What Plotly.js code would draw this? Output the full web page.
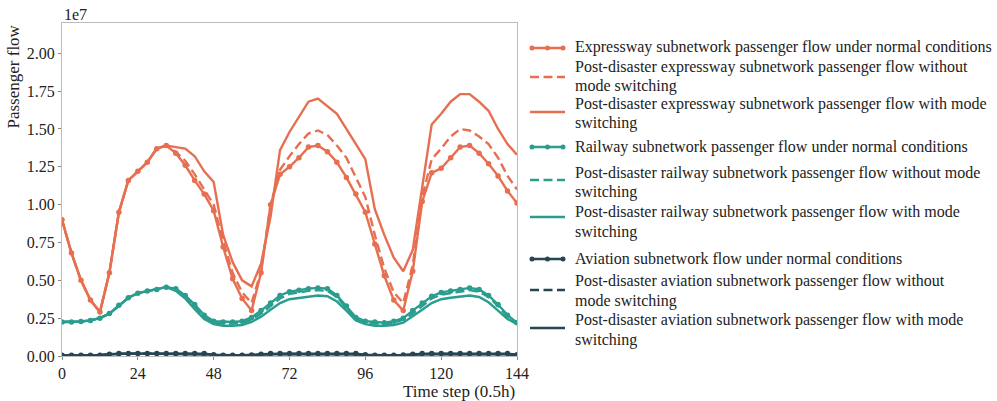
<!DOCTYPE html>
<html><head><meta charset="utf-8">
<script src="https://cdn.plot.ly/plotly-3.0.1.min.js"></script>
<style>body{margin:0;background:#fff}#chart{width:997px;height:401px}</style>
</head><body><div id="chart"></div>
<script>
// time steps (every 3 steps)
const timeSteps = [0,3,6,9,12,15,18,21,24,27,30,33,36,39,42,45,48,51,54,57,60,63,66,69,72,75,78,81,84,87,90,93,96,99,102,105,108,111,114,117,120,123,126,129,132,135,138,141,144];
// values in units of 1e7
const expresswayNormal = [0.90,0.68,0.50,0.37,0.29,0.55,0.95,1.16,1.22,1.28,1.37,1.39,1.34,1.26,1.16,1.07,0.96,0.72,0.51,0.38,0.30,0.55,1.00,1.20,1.25,1.31,1.38,1.39,1.35,1.28,1.18,1.07,0.95,0.74,0.53,0.37,0.30,0.56,1.02,1.21,1.24,1.31,1.38,1.39,1.34,1.27,1.19,1.09,1.01];
const expresswayNoSwitch = [0.90,0.68,0.50,0.37,0.29,0.55,0.95,1.16,1.22,1.28,1.37,1.39,1.35,1.29,1.20,1.10,1.00,0.76,0.55,0.42,0.35,0.56,1.00,1.23,1.32,1.40,1.47,1.49,1.46,1.39,1.31,1.18,1.05,0.80,0.58,0.42,0.35,0.60,1.05,1.30,1.37,1.45,1.50,1.49,1.45,1.40,1.31,1.19,1.10];
const expresswaySwitch = [0.90,0.68,0.50,0.37,0.29,0.55,0.95,1.16,1.22,1.28,1.37,1.39,1.38,1.37,1.32,1.22,1.15,0.80,0.62,0.50,0.46,0.61,0.92,1.36,1.48,1.58,1.68,1.70,1.65,1.60,1.50,1.40,1.30,0.97,0.80,0.65,0.56,0.70,1.10,1.53,1.60,1.68,1.73,1.73,1.68,1.62,1.50,1.40,1.33];
const railwayNormal = [0.225,0.225,0.228,0.235,0.25,0.28,0.335,0.385,0.415,0.43,0.44,0.455,0.445,0.40,0.34,0.27,0.23,0.225,0.225,0.23,0.255,0.30,0.35,0.40,0.425,0.435,0.445,0.45,0.445,0.40,0.33,0.255,0.23,0.225,0.22,0.23,0.25,0.30,0.35,0.395,0.42,0.43,0.44,0.45,0.44,0.40,0.34,0.27,0.22];
const railwayNoSwitch = [0.225,0.225,0.228,0.235,0.25,0.28,0.335,0.385,0.415,0.43,0.44,0.455,0.44,0.39,0.33,0.26,0.22,0.215,0.215,0.22,0.24,0.28,0.33,0.38,0.41,0.42,0.43,0.435,0.43,0.39,0.32,0.245,0.22,0.215,0.21,0.22,0.24,0.28,0.33,0.38,0.405,0.415,0.425,0.435,0.425,0.39,0.33,0.26,0.215];
const railwaySwitch = [0.225,0.225,0.228,0.235,0.25,0.28,0.335,0.385,0.415,0.43,0.44,0.455,0.43,0.38,0.31,0.245,0.21,0.20,0.20,0.205,0.225,0.26,0.305,0.35,0.375,0.385,0.395,0.40,0.395,0.36,0.30,0.235,0.21,0.20,0.20,0.205,0.22,0.26,0.305,0.35,0.375,0.385,0.395,0.40,0.39,0.355,0.30,0.245,0.21];
const aviationNormal = [0.005,0.005,0.005,0.005,0.005,0.012,0.016,0.016,0.016,0.016,0.016,0.016,0.016,0.016,0.016,0.016,0.008,0.005,0.005,0.005,0.006,0.012,0.016,0.016,0.016,0.016,0.016,0.016,0.016,0.016,0.016,0.016,0.008,0.005,0.005,0.005,0.006,0.012,0.016,0.016,0.016,0.016,0.016,0.016,0.016,0.016,0.016,0.016,0.008];
const aviationNoSwitch = [0.005,0.005,0.005,0.005,0.005,0.012,0.016,0.016,0.016,0.016,0.016,0.016,0.013,0.013,0.013,0.012,0.006,0.004,0.004,0.004,0.005,0.010,0.013,0.013,0.013,0.013,0.013,0.013,0.013,0.013,0.013,0.012,0.006,0.004,0.004,0.004,0.005,0.010,0.013,0.013,0.013,0.013,0.013,0.013,0.013,0.013,0.013,0.012,0.006];
const aviationSwitch = [0.005,0.005,0.005,0.005,0.005,0.012,0.016,0.016,0.016,0.016,0.016,0.016,0.012,0.012,0.012,0.011,0.005,0.004,0.004,0.004,0.005,0.009,0.012,0.012,0.012,0.012,0.012,0.012,0.012,0.012,0.012,0.011,0.005,0.004,0.004,0.004,0.005,0.009,0.012,0.012,0.012,0.012,0.012,0.012,0.012,0.012,0.012,0.011,0.005];

const names = [
 "Expressway subnetwork passenger flow under normal conditions",
 "Post-disaster expressway subnetwork passenger flow without<br>mode switching",
 "Post-disaster expressway subnetwork passenger flow with mode<br>switching",
 "Railway subnetwork passenger flow under normal conditions",
 "Post-disaster railway subnetwork passenger flow without mode<br>switching",
 "Post-disaster railway subnetwork passenger flow with mode<br>switching",
 "Aviation subnetwork flow under normal conditions",
 "Post-disaster aviation subnetwork passenger flow without<br>mode switching",
 "Post-disaster aviation subnetwork passenger flow with mode<br>switching"
];
const xTicks = [0,24,48,72,96,120,144];
const yTicks = [0,0.25,0.5,0.75,1.0,1.25,1.5,1.75,2.0];

const cE = '#E76F51', cR = '#2A9D8F', cA = '#264653';
const DASH = '9px,4.5px';
const scale = v => v.map(x => x * 1e7);
function tr(y, name, color, kind){
  const t = {x: timeSteps, y: scale(y), name: name.replace('<br>',' '), type:'scatter', showlegend:false,
    line:{color: color, width: 2.4}};
  if(kind === 'normal'){ t.mode='lines+markers'; t.marker={size:5.5,color:color}; }
  else { t.mode='lines'; if(kind==='dash') t.line.dash=DASH; }
  return t;
}
const series = [
  [expresswayNormal, cE, 'normal'], [expresswayNoSwitch, cE, 'dash'], [expresswaySwitch, cE, 'solid'],
  [railwayNormal, cR, 'normal'], [railwayNoSwitch, cR, 'dash'], [railwaySwitch, cR, 'solid'],
  [aviationNormal, cA, 'normal'], [aviationNoSwitch, cA, 'dash'], [aviationSwitch, cA, 'solid']
];
const data = series.map((s, i) => tr(s[0], names[i], s[1], s[2]));

// plot-area geometry in pixels (for the hand-built legend)
const L = 62, T = 23, W = 455, H = 333;
const px2x = px => (px - L) / W;
const py2y = py => (T + H - py) / H;
const font = 'Liberation Serif, Times New Roman, serif';

// legend text line centres (px) for each entry, and symbol centre
const legendLineY = [[47], [66.5, 85.5], [103.5, 122.5], [147], [172.5, 192], [212, 231.5], [258], [281, 300.5], [320, 339.5]];
const legendSymY  = [48, 77, 112, 147, 180, 217, 259, 290, 328];
const annotations = [
  {text:'1e7', xref:'paper', yref:'paper', x:0, y:1, xanchor:'left', yanchor:'bottom', showarrow:false, yshift:-2,
    font:{family:font, size:16, color:'#222'}},
  {text:'Time step (0.5h)', xref:'paper', yref:'paper', x:1, y:0, xanchor:'right', yanchor:'top', showarrow:false, yshift:-24,
    font:{family:font, size:17, color:'#222'}},
  {text:'Passenger flow', xref:'paper', yref:'paper', x:0, y:1, xanchor:'right', yanchor:'top', showarrow:false, textangle:-90, xshift:-38,
    font:{family:font, size:17, color:'#222'}}
];
const shapes = [];
series.forEach((s, i) => {
  names[i].split('<br>').forEach((line, k) => {
    annotations.push({text: line, xref:'paper', yref:'paper', x: px2x(574), y: py2y(legendLineY[i][k]),
      xanchor:'left', yanchor:'middle', align:'left', showarrow:false, borderpad:0,
      font:{family:font, size:16, color:'#222'}});
  });
  const sy = py2y(legendSymY[i]);
  const ln = {type:'line', xref:'paper', yref:'paper', x0: px2x(530), x1: px2x(565), y0: sy, y1: sy,
    line:{color: s[1], width: 2.4}};
  if (s[2] === 'dash') ln.line.dash = DASH;
  shapes.push(ln);
  if (s[2] === 'normal') {
    [532, 547.5, 563].forEach(cx => {
      shapes.push({type:'circle', xref:'paper', yref:'paper', fillcolor: s[1], line:{color: s[1], width:0},
        x0: px2x(cx - 2.5), x1: px2x(cx + 2.5), y0: py2y(legendSymY[i] + 2.5), y1: py2y(legendSymY[i] - 2.5)});
    });
  }
});

const layout = {
  width: 997, height: 401,
  margin:{l:L, r:997 - L - W, t:T, b:401 - T - H},
  paper_bgcolor:'#fff', plot_bgcolor:'#fff',
  font:{family: font, size:16, color:'#222'},
  showlegend: false,
  xaxis:{range:[0,144], tickvals: xTicks, ticktext: xTicks.map(String), showgrid:false, zeroline:false,
    showline:true, mirror:true, linecolor:'#bbb', linewidth:1, ticks:'outside', ticklen:3, tickcolor:'#888',
    tickfont:{family:font, size:16, color:'#222'}},
  yaxis:{range:[0,2.2e7], tickvals: yTicks.map(v=>v*1e7), ticktext: yTicks.map(v=>v.toFixed(2)), showgrid:false, zeroline:false,
    showline:true, mirror:true, linecolor:'#bbb', linewidth:1, ticks:'outside', ticklen:3, tickcolor:'#888',
    tickfont:{family:font, size:16, color:'#222'}},
  annotations: annotations,
  shapes: shapes
};
Plotly.newPlot('chart', data, layout, {displayModeBar:false, staticPlot:true});
</script></body></html>
